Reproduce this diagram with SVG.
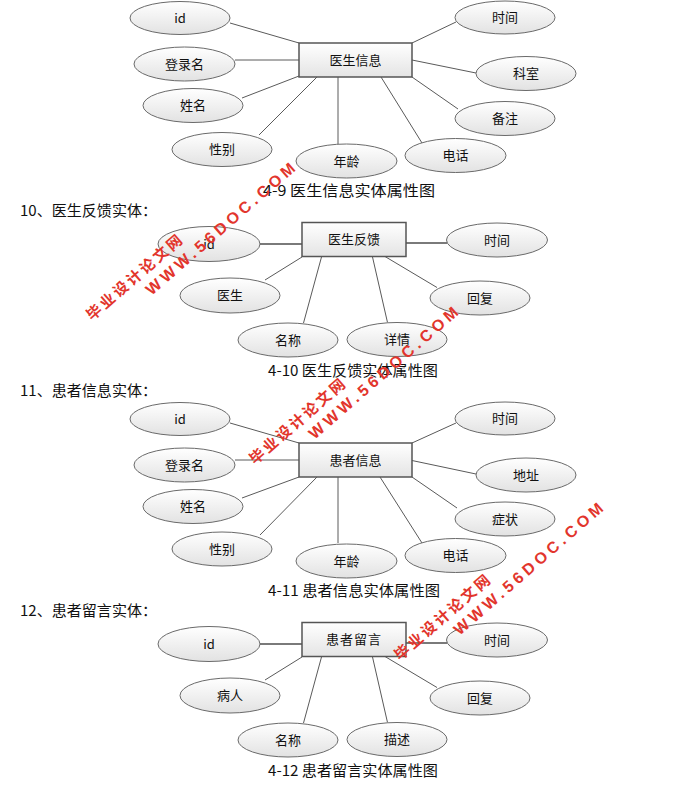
<svg xmlns="http://www.w3.org/2000/svg" width="683" height="810" viewBox="0 0 683 810">
<defs>
<linearGradient id="gE" x1="0" y1="0" x2="0" y2="1"><stop offset="0" stop-color="#ffffff"/><stop offset="1" stop-color="#e2e2e2"/></linearGradient>
<linearGradient id="gR" x1="0" y1="0" x2="0" y2="1"><stop offset="0" stop-color="#ffffff"/><stop offset="1" stop-color="#e4e4e4"/></linearGradient>
<style>
.e{fill:url(#gE);stroke:#6a6a6a;stroke-width:1}
.r{fill:url(#gR);stroke:#555;stroke-width:1.5}
.l{stroke:#5a5a5a;stroke-width:1;fill:none}
.L{stroke:#7a7a7a;stroke-width:2.2;fill:none}
.t{font-family:"Noto Sans CJK SC","Liberation Sans",sans-serif;font-size:13px;fill:#111;text-anchor:middle}
.c{font-family:"Noto Sans CJK SC","Liberation Sans",sans-serif;font-size:15px;fill:#111;text-anchor:middle}
.h{font-family:"Noto Sans CJK SC","Liberation Sans",sans-serif;font-size:15px;fill:#111}
.w1{font-family:"Noto Sans CJK SC",sans-serif;font-size:15px;font-weight:bold;fill:#e2352c;text-anchor:middle}
.w2{font-family:"Liberation Sans",sans-serif;font-size:16px;font-weight:bold;fill:#e2352c;text-anchor:middle}
</style>
</defs>
<rect width="683" height="810" fill="#fff"/>

<!-- Diagram 4-9 -->
<g id="conn1">
<line class="l" x1="230" y1="23" x2="299" y2="43"/>
<line class="l" x1="235" y1="60" x2="299" y2="60"/>
<line class="l" x1="242" y1="98" x2="299" y2="76"/>
<line class="l" x1="259" y1="135" x2="317" y2="77"/>
<line class="l" x1="338" y1="77" x2="338" y2="144"/>
<line class="l" x1="381" y1="77" x2="422" y2="143"/>
<line class="l" x1="412" y1="77" x2="458" y2="109"/>
<line class="l" x1="412" y1="60" x2="476" y2="73"/>
<line class="l" x1="412" y1="43" x2="456" y2="22"/>
</g>
<g id="d1-entity"><rect class="r" x="299" y="43" width="113" height="34"/><text class="t" x="355.5" y="64.5">医生信息</text></g>
<g id="d1-id"><ellipse class="e" cx="180" cy="18" rx="50" ry="16.5"/><text class="t" x="180" y="22.5">id</text></g>
<g id="d1-login"><ellipse class="e" cx="184.5" cy="64" rx="50.5" ry="17"/><text class="t" x="184.5" y="68.5">登录名</text></g>
<g id="d1-name"><ellipse class="e" cx="193" cy="105.5" rx="50" ry="17"/><text class="t" x="193" y="110">姓名</text></g>
<g id="d1-sex"><ellipse class="e" cx="222" cy="149.5" rx="50" ry="17"/><text class="t" x="222" y="154">性别</text></g>
<g id="d1-age"><ellipse class="e" cx="346.5" cy="161" rx="50.5" ry="17"/><text class="t" x="346.5" y="165.5">年龄</text></g>
<g id="d1-tel"><ellipse class="e" cx="455.5" cy="155.5" rx="50.5" ry="17"/><text class="t" x="455.5" y="160">电话</text></g>
<g id="d1-note"><ellipse class="e" cx="505" cy="118.5" rx="50" ry="17"/><text class="t" x="505" y="123">备注</text></g>
<g id="d1-dept"><ellipse class="e" cx="526" cy="73.5" rx="50" ry="17"/><text class="t" x="526" y="78">科室</text></g>
<g id="d1-time"><ellipse class="e" cx="505" cy="17.5" rx="50" ry="16.5"/><text class="t" x="505" y="22">时间</text></g>
<text class="c" x="349" y="195.5" textLength="172" lengthAdjust="spacingAndGlyphs">4-9 医生信息实体属性图</text>

<!-- Diagram 4-10 -->
<text class="h" x="20" y="215.5" textLength="137" lengthAdjust="spacingAndGlyphs">10、医生反馈实体：</text>
<g id="conn2">
<line class="L" x1="260" y1="244" x2="302" y2="244"/>
<line class="L" x1="406" y1="243" x2="447" y2="243"/>
<line class="l" x1="302" y1="257" x2="265" y2="280"/>
<line class="l" x1="321.5" y1="257" x2="303.5" y2="323"/>
<line class="l" x1="372.5" y1="257" x2="387.5" y2="322.5"/>
<line class="l" x1="385" y1="256.5" x2="437" y2="287.5"/>
</g>
<g id="d2-entity"><rect class="r" x="302" y="222.5" width="104" height="34"/><text class="t" x="354" y="244">医生反馈</text></g>
<g id="d2-id"><ellipse class="e" cx="209" cy="244" rx="51" ry="17.5"/><text class="t" x="209" y="248.5">id</text></g>
<g id="d2-time"><ellipse class="e" cx="497" cy="240" rx="50.5" ry="17"/><text class="t" x="497" y="244.5">时间</text></g>
<g id="d2-doctor"><ellipse class="e" cx="230" cy="295.5" rx="50" ry="17.5"/><text class="t" x="230" y="300">医生</text></g>
<g id="d2-reply"><ellipse class="e" cx="480" cy="298" rx="50" ry="17"/><text class="t" x="480" y="302.5">回复</text></g>
<g id="d2-title"><ellipse class="e" cx="288" cy="340" rx="50" ry="17"/><text class="t" x="288" y="344.5">名称</text></g>
<g id="d2-detail"><ellipse class="e" cx="397" cy="339.5" rx="50" ry="17"/><text class="t" x="397" y="344">详情</text></g>
<text class="c" x="353" y="375.5" textLength="170" lengthAdjust="spacingAndGlyphs">4-10 医生反馈实体属性图</text>

<!-- Diagram 4-11 -->
<text class="h" x="20" y="396" textLength="137" lengthAdjust="spacingAndGlyphs">11、患者信息实体：</text>
<g id="conn3">
<line class="l" x1="230" y1="423" x2="299" y2="443"/>
<line class="l" x1="235" y1="460" x2="299" y2="460"/>
<line class="l" x1="242" y1="498" x2="299" y2="477"/>
<line class="l" x1="260" y1="535" x2="317" y2="477"/>
<line class="l" x1="338" y1="477" x2="338" y2="543"/>
<line class="l" x1="380" y1="477" x2="422" y2="543"/>
<line class="l" x1="412" y1="477" x2="457" y2="508"/>
<line class="l" x1="412" y1="460.5" x2="476" y2="474"/>
<line class="l" x1="412" y1="443" x2="456" y2="423"/>
</g>
<g id="d3-entity"><rect class="r" x="299" y="443" width="113" height="34"/><text class="t" x="355.5" y="464.5">患者信息</text></g>
<g id="d3-id"><ellipse class="e" cx="180" cy="419" rx="50" ry="16.5"/><text class="t" x="180" y="423.5">id</text></g>
<g id="d3-login"><ellipse class="e" cx="184.5" cy="465" rx="50.5" ry="17"/><text class="t" x="184.5" y="469.5">登录名</text></g>
<g id="d3-name"><ellipse class="e" cx="193" cy="506.5" rx="50" ry="17"/><text class="t" x="193" y="511">姓名</text></g>
<g id="d3-sex"><ellipse class="e" cx="222" cy="549" rx="50" ry="17"/><text class="t" x="222" y="553.5">性别</text></g>
<g id="d3-age"><ellipse class="e" cx="346.5" cy="561" rx="50.5" ry="17"/><text class="t" x="346.5" y="565.5">年龄</text></g>
<g id="d3-tel"><ellipse class="e" cx="455.5" cy="555.5" rx="50.5" ry="17"/><text class="t" x="455.5" y="560">电话</text></g>
<g id="d3-symptom"><ellipse class="e" cx="505" cy="519" rx="50" ry="17"/><text class="t" x="505" y="523.5">症状</text></g>
<g id="d3-addr"><ellipse class="e" cx="526" cy="475" rx="50" ry="17"/><text class="t" x="526" y="479.5">地址</text></g>
<g id="d3-time"><ellipse class="e" cx="505" cy="418.5" rx="50" ry="16.5"/><text class="t" x="505" y="423">时间</text></g>
<text class="c" x="354" y="595.5" textLength="172" lengthAdjust="spacingAndGlyphs">4-11 患者信息实体属性图</text>

<!-- Diagram 4-12 -->
<text class="h" x="20" y="616" textLength="137" lengthAdjust="spacingAndGlyphs">12、患者留言实体：</text>
<g id="conn4">
<line class="L" x1="260" y1="644" x2="302" y2="644"/>
<line class="L" x1="406" y1="643" x2="447" y2="643"/>
<line class="l" x1="302" y1="657" x2="265" y2="680"/>
<line class="l" x1="321.5" y1="657" x2="303.5" y2="723"/>
<line class="l" x1="372.5" y1="657" x2="387.5" y2="722.5"/>
<line class="l" x1="385" y1="656.5" x2="437" y2="687.5"/>
</g>
<g id="d4-entity"><rect class="r" x="302" y="622.5" width="104" height="34"/><text class="t" x="354" y="644" letter-spacing="1">患者留言</text></g>
<g id="d4-id"><ellipse class="e" cx="209" cy="644" rx="51" ry="17.5"/><text class="t" x="209" y="648.5">id</text></g>
<g id="d4-time"><ellipse class="e" cx="497" cy="640" rx="50.5" ry="17"/><text class="t" x="497" y="644.5">时间</text></g>
<g id="d4-patient"><ellipse class="e" cx="230" cy="695.5" rx="50" ry="17.5"/><text class="t" x="230" y="700">病人</text></g>
<g id="d4-reply"><ellipse class="e" cx="480" cy="698" rx="50" ry="17"/><text class="t" x="480" y="702.5">回复</text></g>
<g id="d4-title"><ellipse class="e" cx="288" cy="740" rx="50" ry="17"/><text class="t" x="288" y="744.5">名称</text></g>
<g id="d4-desc"><ellipse class="e" cx="397" cy="739.5" rx="50" ry="17"/><text class="t" x="397" y="744">描述</text></g>
<text class="c" x="353" y="775.5" textLength="170" lengthAdjust="spacingAndGlyphs">4-12 患者留言实体属性图</text>

<!-- Watermarks -->
<g transform="translate(220,228.5) rotate(-41)">
<text class="w1" x="-97" y="-14" textLength="121" lengthAdjust="spacing">毕业设计论文网</text>
<text class="w2" x="0" y="6" textLength="192" lengthAdjust="spacing">WWW.56DOC.COM</text>
</g>
<g transform="translate(383,372.5) rotate(-41)">
<text class="w1" x="-97" y="-14" textLength="121" lengthAdjust="spacing">毕业设计论文网</text>
<text class="w2" x="0" y="6" textLength="192" lengthAdjust="spacing">WWW.56DOC.COM</text>
</g>
<g transform="translate(528,568.5) rotate(-41)">
<text class="w1" x="-97" y="-14" textLength="121" lengthAdjust="spacing">毕业设计论文网</text>
<text class="w2" x="0" y="6" textLength="192" lengthAdjust="spacing">WWW.56DOC.COM</text>
</g>
</svg>
